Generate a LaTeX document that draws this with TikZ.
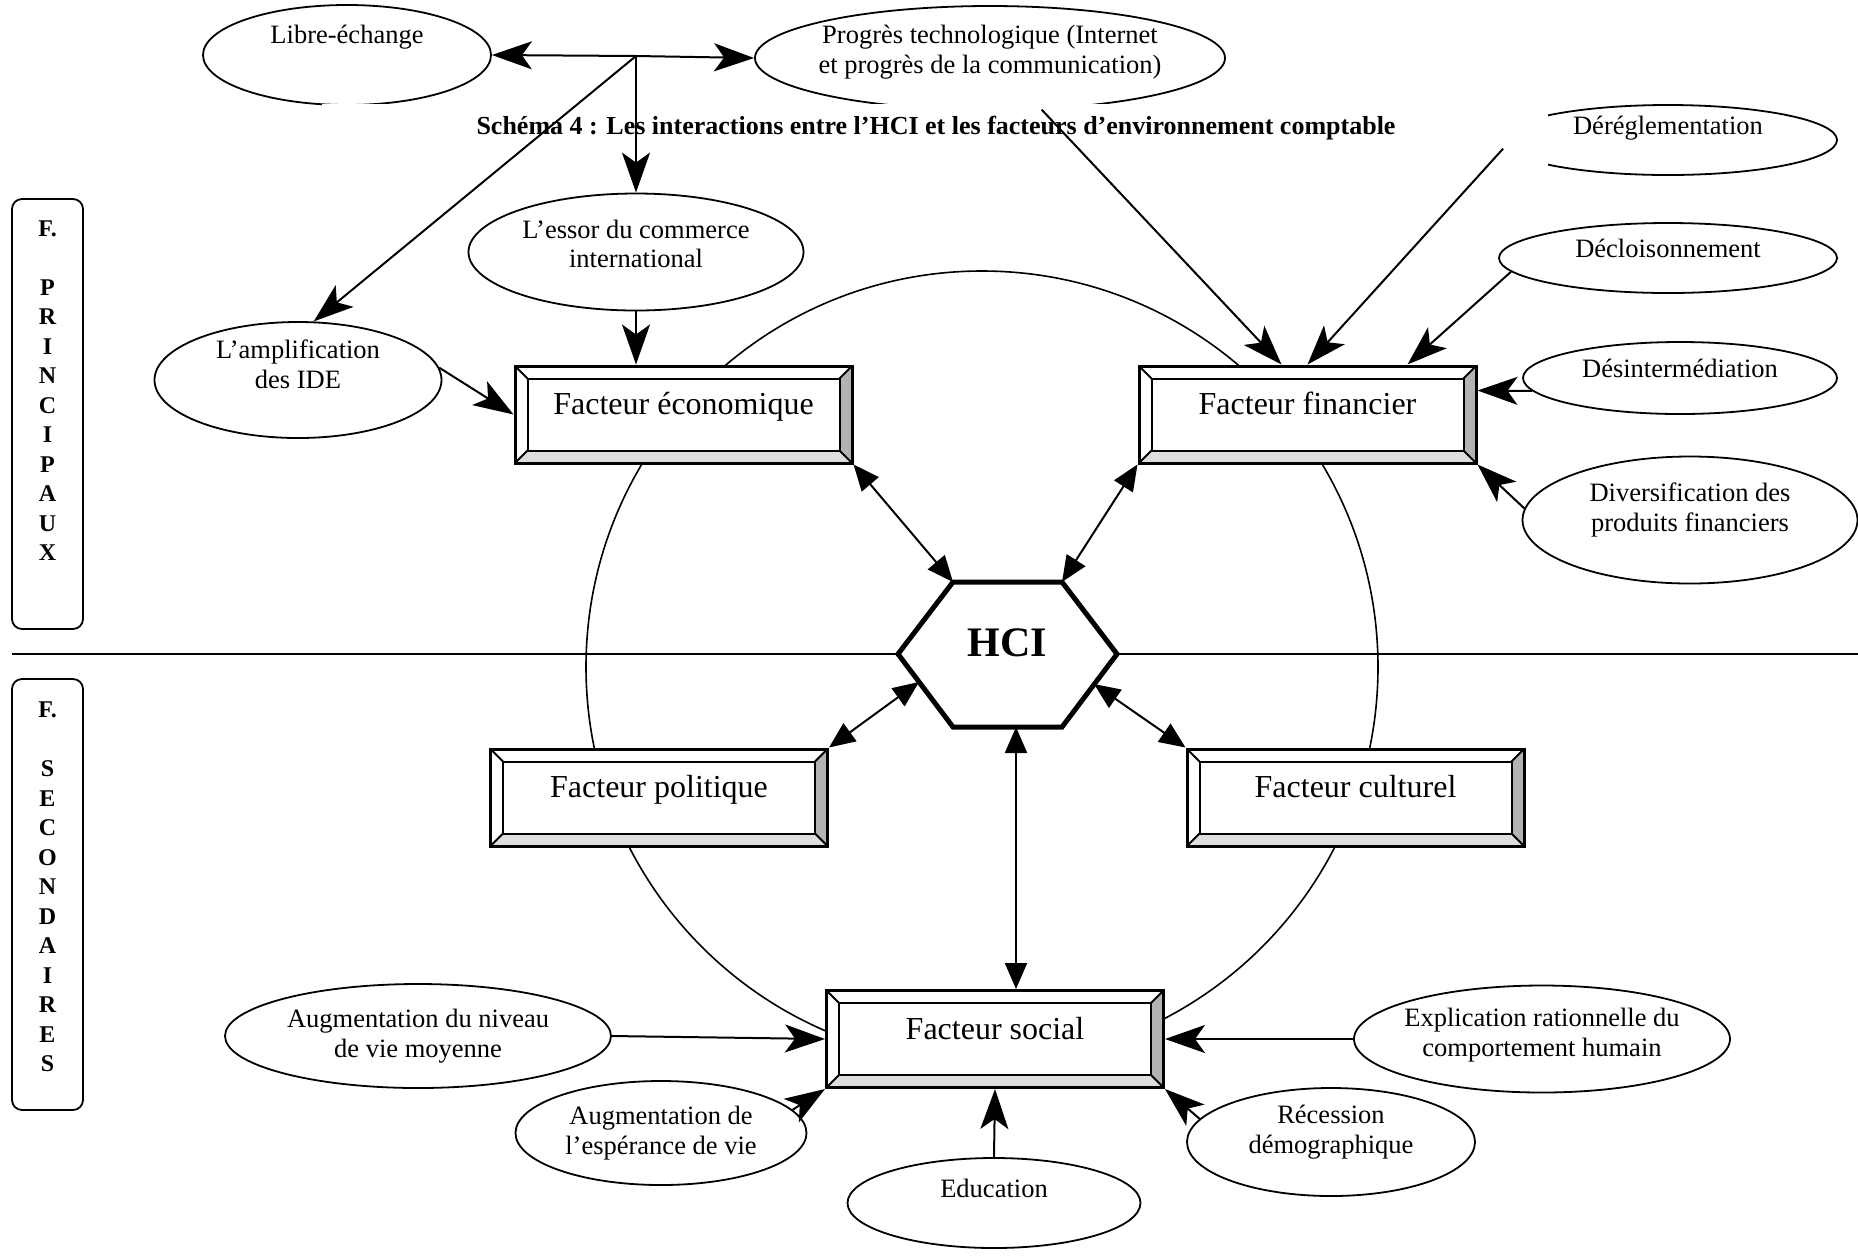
\documentclass[tikz,border=0pt]{standalone}
\usepackage{fontspec}
\setmainfont{Liberation Serif}
\usetikzlibrary{shapes.geometric,arrows.meta}

\definecolor{biseaud}{HTML}{B3B3B3}
\definecolor{biseaub}{HTML}{DDDDDD}

\tikzset{
  bulle/.style={ellipse, draw, line width=0.9pt, fill=white, inner sep=0pt},
  texte/.style={align=center, inner sep=0pt, font=\fontsize{13.25}{14.8}\selectfont},
  cadre/.style={rectangle, draw, line width=1.5pt, fill=white, inner sep=0pt,
    minimum width=168.5pt, minimum height=48.5pt,
    font=\fontsize{16}{19}\selectfont, text height=12pt, text depth=12pt,
    path picture={
      \path (path picture bounding box.south west) coordinate (sw)
            (path picture bounding box.south east) coordinate (se)
            (path picture bounding box.north east) coordinate (ne)
            (path picture bounding box.north west) coordinate (nw);
      \fill[biseaub] (sw) -- ([shift={(6.25pt,6.25pt)}]sw) -- ([shift={(-6.25pt,6.25pt)}]se) -- (se) -- cycle;
      \fill[biseaud] (se) -- ([shift={(-6.25pt,6.25pt)}]se) -- ([shift={(-6.25pt,-6.25pt)}]ne) -- (ne) -- cycle;
      \draw[line width=1pt] ([shift={(6.25pt,6.25pt)}]sw) rectangle ([shift={(-6.25pt,-6.25pt)}]ne);
      \draw[line width=1pt] (sw) -- ++(6.25pt,6.25pt) (se) -- ++(-6.25pt,6.25pt)
            (ne) -- ++(-6.25pt,-6.25pt) (nw) -- ++(6.25pt,-6.25pt);
    }},
  volet/.style={draw, rounded corners=5pt, line width=0.9pt, inner sep=0pt,
    minimum width=35.5pt},
  lettres/.style={align=center, inner sep=0pt, font=\fontsize{12}{14.75}\selectfont\bfseries},
  fleche/.style={line width=1pt, -{Stealth[length=20pt,width=14pt,inset=5pt]}},
  double/.style={line width=1pt, {Triangle[length=13pt,width=11pt]}-{Triangle[length=13pt,width=11pt]}}
}

\begin{document}
\begin{tikzpicture}[x=0.5pt, y=-0.5pt]
\useasboundingbox (0,0) rectangle (1858,1255);

% grand cercle et separation
\draw[line width=0.8pt] (982,667) circle[radius=198pt];
\coordinate (h-g) at (898,654);
\coordinate (h-hg) at (953,582);
\coordinate (h-hd) at (1062,582);
\coordinate (h-d) at (1117,654);
\coordinate (h-bd) at (1062,727);
\coordinate (h-bg) at (953,727);
\coordinate (ligne-g) at (12,654);
\coordinate (ligne-d) at (1858,654);
\draw[line width=1.2pt] (ligne-g) -- (h-g) (h-d) -- (ligne-d);

% bulles du haut
\node (libre) [bulle, minimum width=144pt, minimum height=50pt] at (347,55) {};
\node (libre-t) [texte] at ([yshift=9pt]libre.center) {Libre-échange};
\node (progres) [bulle, minimum width=235pt, minimum height=52pt] at (990,58) {};
\node (progres-t) [texte] at ([yshift=3pt]progres.center) {Progrès technologique (Internet\\et progrès de la communication)};
\node (dereg) [bulle, minimum width=169pt, minimum height=35pt] at (1668,140) {};
\node (dereg-t) [texte] at ([yshift=6pt]dereg.center) {Déréglementation};

% titre
\fill[white] (322,104) rectangle (1548,178);
\node (titre) [font=\fontsize{13}{15}\selectfont\bfseries] at (936,128) {Schéma 4 : Les interactions entre l’HCI et les facteurs d’environnement comptable};

% autres bulles
\node (decloi) [bulle, minimum width=169pt, minimum height=35pt] at (1668,258) {};
\node (decloi-t) [texte] at ([yshift=5pt]decloi.center) {Décloisonnement};
\node (desint) [bulle, minimum width=157pt, minimum height=36pt] at (1680,378) {};
\node (desint-t) [texte] at ([yshift=5pt]desint.center) {Désintermédiation};
\node (divers) [bulle, minimum width=167.5pt, minimum height=63.5pt] at (1690,520) {};
\node (divers-t) [texte] at ([yshift=5pt]divers.center) {Diversification des\\produits financiers};
\node (essor) [bulle, minimum width=167.5pt, minimum height=58.5pt] at (636,252) {};
\node (essor-t) [texte] at ([yshift=4pt]essor.center) {L’essor du commerce\\international};
\node (amplif) [bulle, minimum width=143.5pt, minimum height=58pt] at (298,380) {};
\node (amplif-t) [texte] at ([yshift=8pt]amplif.center) {L’amplification\\des IDE};
\node (niveau) [bulle, minimum width=193pt, minimum height=52pt] at (418,1036) {};
\node (niveau-t) [texte] at (niveau.center) {Augmentation du niveau\\de vie moyenne};
\node (esper) [bulle, minimum width=145.5pt, minimum height=52pt] at (661,1133) {};
\node (esper-t) [texte] at (esper.center) {Augmentation de\\l’espérance de vie};
\node (educ) [bulle, minimum width=146.5pt, minimum height=45pt] at (994,1203) {};
\node (educ-t) [texte] at ([yshift=7.5pt]educ.center) {Education};
\node (recess) [bulle, minimum width=144pt, minimum height=54pt] at (1331,1142) {};
\node (recess-t) [texte] at ([yshift=5pt]recess.center) {Récession\\démographique};
\node (explic) [bulle, minimum width=188pt, minimum height=53.5pt] at (1542,1039) {};
\node (explic-t) [texte] at ([yshift=2pt]explic.center) {Explication rationnelle du\\comportement humain};

% facteurs
\node (econ) [cadre] at (683.5,414.5) {Facteur économique};
\node (fin) [cadre] at (1307.5,414.5) {Facteur financier};
\node (pol) [cadre] at (659,797.5) {Facteur politique};
\node (cult) [cadre] at (1355.5,797.5) {Facteur culturel};
\node (social) [cadre] at (995,1039) {Facteur social};

% HCI
\draw[line width=2.5pt, fill=white] (h-g) -- (h-hg) -- (h-hd) -- (h-d) -- (h-bd) -- (h-bg) -- cycle;
\node (hci) [font=\fontsize{21}{25}\selectfont\bfseries] at (1007,643) {HCI};
\coordinate (h-pol) at (919,682);
\coordinate (h-cult) at (1094,684);
\coordinate (h-bas) at (1016,727);

% volets
\node (principaux) [volet, minimum height=215pt] at (47.5,414) {};
\node (principaux-t) [lettres] at (47.5,390.5) {F.\\[14.75pt]P\\R\\I\\N\\C\\I\\P\\A\\U\\X};
\node (secondaires) [volet, minimum height=215.5pt] at (47.5,894.5) {};
\node (secondaires-t) [lettres] at (47.5,887) {F.\\[14.75pt]S\\E\\C\\O\\N\\D\\A\\I\\R\\E\\S};

% fleches du haut
\coordinate (jonction) at (636,56);
\draw[fleche] (jonction) -- (libre.east);
\draw[fleche] (jonction) -- (progres.west);
\draw[fleche] (jonction) -- (essor.north);
\draw[fleche] (jonction) -- (amplif.75);
\draw[fleche] (amplif.5) -- (econ.west);
\draw[fleche] (essor.south) -- (essor.south |- econ.north);
\draw[fleche] (progres.-45) -- ([xshift=-13pt]fin.north);
\draw[fleche] (dereg.183) -- (fin.north);
\draw[fleche] (decloi.185) -- ([xshift=50pt]fin.north);
\draw[fleche] (desint.185) -- ([yshift=12pt]fin.east);
\draw[fleche] (divers.176) -- (fin.south east);

% liens avec HCI
\draw[double] (econ.south east) -- (h-hg);
\draw[double] (fin.south west) -- (h-hd);
\draw[double] (pol.north east) -- (h-pol);
\draw[double] (cult.north west) -- (h-cult);
\draw[double] (h-bas) -- (h-bas |- social.north);

% fleches du bas
\draw[fleche] (niveau.east) -- (social.west);
\draw[fleche] (esper.10) -- (social.south west);
\draw[fleche] (educ.north) -- (social.south);
\draw[fleche] (recess.170) -- (social.south east);
\draw[fleche] (explic.west) -- (social.east);
\end{tikzpicture}
\end{document}
